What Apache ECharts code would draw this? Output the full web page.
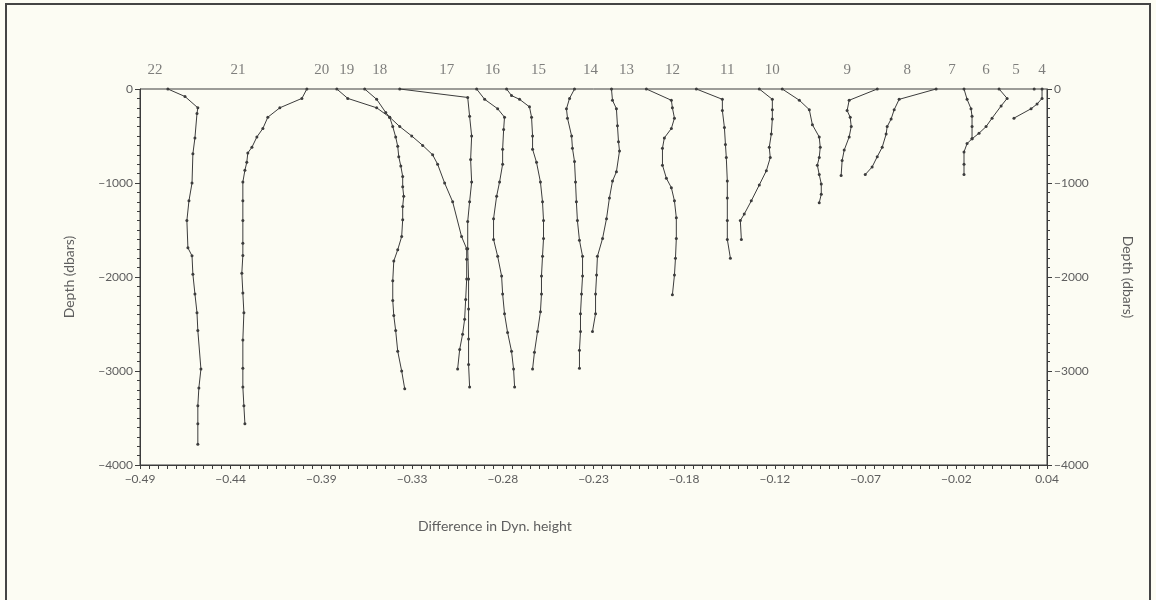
<!DOCTYPE html>
<html>
<head>
<meta charset="utf-8">
<script src="https://cdn.jsdelivr.net/npm/echarts@6/dist/echarts.min.js"></script>
<style>
  html, body { margin: 0; padding: 0; background: #fcfcf3; }
  #main { width: 1156px; height: 600px; }
</style>
</head>
<body>
<div id="main"></div>
<script>
// x axis: difference in dynamic height, labels as printed
var xTickLabels = ['−0.49', '−0.44', '−0.39', '−0.33', '−0.28', '−0.23', '−0.18', '−0.12', '−0.07', '−0.02', '0.04'];
var xMin = -0.4935;
var xStep = 0.053;

// station numbers printed above the surface line
var stationNames = ['22', '21', '20', '19', '18', '17', '16', '15', '14', '13', '12', '11', '10', '9', '8', '7', '6', '5', '4'];
var stationLabelX = [-0.4847, -0.4363, -0.3873, -0.3727, -0.3534, -0.3143, -0.2875, -0.2606, -0.2303, -0.2092,
                     -0.1824, -0.1503, -0.1240, -0.0802, -0.0452, -0.0190, 0.0009, 0.0184, 0.0336];

// profiles: [difference in dyn. height, depth (dbars)]
var p22 = [[-0.4772, 0], [-0.4672, -80], [-0.4597, -200], [-0.4602, -260], [-0.4614, -520], [-0.4626, -690],
           [-0.4631, -1000], [-0.4649, -1190], [-0.4661, -1400], [-0.4655, -1690], [-0.4631, -1775], [-0.4626, -1970],
           [-0.4614, -2180], [-0.4602, -2380], [-0.4597, -2570], [-0.4579, -2980], [-0.4591, -3180], [-0.4597, -3370],
           [-0.4597, -3560], [-0.4597, -3780]];
var p21 = [[-0.3960, 0], [-0.3989, -100], [-0.4118, -200], [-0.4188, -300], [-0.4217, -420], [-0.4252, -510],
           [-0.4281, -620], [-0.4305, -680], [-0.4311, -780], [-0.4322, -865], [-0.4334, -990], [-0.4334, -1190],
           [-0.4334, -1400], [-0.4334, -1640], [-0.4334, -1770], [-0.4340, -1960], [-0.4334, -2170], [-0.4328, -2380],
           [-0.4334, -2670], [-0.4334, -2970], [-0.4334, -3170], [-0.4328, -3370], [-0.4322, -3560]];
var p19 = [[-0.3785, 0], [-0.3721, -100], [-0.3552, -200], [-0.3476, -300], [-0.3417, -400], [-0.3347, -500],
           [-0.3283, -600], [-0.3225, -700], [-0.3196, -800], [-0.3155, -1000], [-0.3108, -1200], [-0.3056, -1570],
           [-0.3026, -1700], [-0.3026, -1810], [-0.3026, -2020], [-0.3032, -2240], [-0.3038, -2450], [-0.3050, -2610],
           [-0.3067, -2770], [-0.3079, -2980]];
var p18 = [[-0.3622, 0], [-0.3552, -110], [-0.3499, -250], [-0.3476, -300], [-0.3458, -400], [-0.3441, -510],
           [-0.3429, -610], [-0.3423, -720], [-0.3411, -820], [-0.3400, -930], [-0.3400, -1040], [-0.3394, -1140],
           [-0.3400, -1250], [-0.3400, -1390], [-0.3406, -1570], [-0.3429, -1710], [-0.3452, -1830], [-0.3458, -2040],
           [-0.3458, -2250], [-0.3452, -2410], [-0.3441, -2570], [-0.3429, -2790], [-0.3406, -3000], [-0.3388, -3190]];
var p17 = [[-0.3417, 0], [-0.3020, -90], [-0.3009, -290], [-0.2997, -500], [-0.3003, -750], [-0.2997, -990],
           [-0.3009, -1200], [-0.3020, -1410], [-0.3020, -1700], [-0.3015, -2020], [-0.3015, -2340], [-0.3015, -2660],
           [-0.3015, -2930], [-0.3009, -3170]];
var p16 = [[-0.2968, 0], [-0.2921, -110], [-0.2845, -210], [-0.2805, -300], [-0.2810, -430], [-0.2816, -640],
           [-0.2816, -800], [-0.2834, -990], [-0.2851, -1140], [-0.2869, -1380], [-0.2869, -1600], [-0.2845, -1780],
           [-0.2822, -1990], [-0.2816, -2180], [-0.2805, -2390], [-0.2787, -2590], [-0.2764, -2790], [-0.2752, -2980],
           [-0.2746, -3170]];
var p15 = [[-0.2793, 0], [-0.2764, -70], [-0.2717, -110], [-0.2659, -190], [-0.2647, -300], [-0.2641, -500],
           [-0.2641, -640], [-0.2618, -780], [-0.2595, -990], [-0.2583, -1200], [-0.2577, -1400], [-0.2577, -1590],
           [-0.2583, -1780], [-0.2589, -1990], [-0.2589, -2180], [-0.2595, -2370], [-0.2612, -2580], [-0.2630, -2800],
           [-0.2641, -2980]];
var p14 = [[-0.2396, 0], [-0.2425, -100], [-0.2443, -210], [-0.2437, -310], [-0.2413, -500], [-0.2408, -630],
           [-0.2396, -770], [-0.2390, -990], [-0.2385, -1200], [-0.2379, -1400], [-0.2367, -1610], [-0.2349, -1780],
           [-0.2349, -1990], [-0.2355, -2180], [-0.2361, -2390], [-0.2361, -2580], [-0.2367, -2780], [-0.2367, -2970]];
var p13 = [[-0.2180, 0], [-0.2174, -120], [-0.2151, -210], [-0.2145, -390], [-0.2139, -560], [-0.2133, -660],
           [-0.2151, -880], [-0.2174, -980], [-0.2192, -1160], [-0.2209, -1380], [-0.2232, -1590], [-0.2262, -1780],
           [-0.2267, -1980], [-0.2273, -2180], [-0.2273, -2390], [-0.2291, -2580]];
var p12 = [[-0.1976, 0], [-0.1830, -120], [-0.1824, -200], [-0.1812, -310], [-0.1830, -420], [-0.1871, -520],
           [-0.1882, -630], [-0.1882, -810], [-0.1859, -950], [-0.1830, -1050], [-0.1812, -1190], [-0.1801, -1370],
           [-0.1801, -1590], [-0.1806, -1800], [-0.1812, -1980], [-0.1824, -2190]];
var p11 = [[-0.1684, 0], [-0.1532, -110], [-0.1532, -230], [-0.1520, -410], [-0.1514, -590], [-0.1509, -730],
           [-0.1503, -980], [-0.1503, -1160], [-0.1503, -1400], [-0.1503, -1600], [-0.1485, -1800]];
var p10 = [[-0.1316, 0], [-0.1240, -110], [-0.1240, -220], [-0.1240, -320], [-0.1246, -480], [-0.1258, -620],
           [-0.1252, -730], [-0.1275, -870], [-0.1316, -1020], [-0.1363, -1190], [-0.1404, -1330], [-0.1427, -1400],
           [-0.1421, -1600]];
var p9a = [[-0.1182, 0], [-0.1082, -120], [-0.1024, -220], [-0.1006, -380], [-0.0966, -510], [-0.0960, -620],
           [-0.0966, -730], [-0.0977, -810], [-0.0966, -910], [-0.0954, -1010], [-0.0954, -1120], [-0.0966, -1210]];
var p9 = [[-0.0627, 0], [-0.0791, -120], [-0.0803, -230], [-0.0785, -300], [-0.0779, -400], [-0.0791, -510],
          [-0.0820, -650], [-0.0832, -760], [-0.0838, -920]];
var p8 = [[-0.0283, 0], [-0.0499, -110], [-0.0528, -220], [-0.0546, -320], [-0.0569, -400], [-0.0575, -480],
          [-0.0598, -620], [-0.0627, -720], [-0.0657, -830], [-0.0697, -910]];
var p7 = [[-0.0120, 0], [-0.0102, -110], [-0.0079, -210], [-0.0073, -290], [-0.0073, -400], [-0.0073, -530],
          [-0.0102, -580], [-0.0120, -670], [-0.0120, -800], [-0.0120, -910]];
var p6 = [[0.0085, 0], [0.0132, -100], [0.0097, -180], [0.0044, -310], [0.0009, -400], [-0.0032, -470], [-0.0073, -530]];
var p5 = [[0.0290, 0]];
var p4 = [[0.0336, 0], [0.0336, -100], [0.0307, -160], [0.0272, -210], [0.0172, -310]];

var profiles = [p22, p21, p19, p18, p17, p16, p15, p14, p13, p12, p11, p10, p9a, p9, p8, p7, p6, p5, p4];
var profileNames = ['22', '21', '19', '18', '17', '16', '15', '14', '13', '12', '11', '10', '9a', '9', '8', '7', '6', '5', '4'];

var xMax = xMin + (xTickLabels.length - 1) * xStep;
var majorX = xTickLabels.map(function (s, i) { return xMin + i * xStep; });
var minorX = [];
for (var i = 0; i <= (xTickLabels.length - 1) * 10; i++) {
    minorX.push(xMin + i * xStep / 10);
}

var ink = '#3c3c3c';
var textGrey = '#5e5e5e';
var sansFont = 'Lato, "Open Sans", sans-serif';

var myChart = echarts.init(document.getElementById('main'));

var series = profiles.map(function (p, k) {
    return {
        name: profileNames[k],
        type: 'line',
        data: p,
        symbol: 'circle',
        symbolSize: 3,
        showSymbol: true,
        itemStyle: { color: ink },
        lineStyle: { color: ink, width: 1 },
        clip: false,
        silent: true
    };
});

// station numbers
series.push({
    type: 'scatter',
    symbolSize: 0,
    clip: false,
    silent: true,
    data: stationNames.map(function (n, i) { return { name: n, value: [stationLabelX[i], 0] }; }),
    label: {
        show: true,
        position: 'top',
        distance: 11,
        formatter: '{b}',
        fontFamily: '"Liberation Serif", serif',
        fontSize: 15,
        color: textGrey
    }
});

myChart.setOption({
    backgroundColor: '#fcfcf3',
    animation: false,
    title: {
        text: 'Difference in Dyn. height',
        left: 413,
        top: 514,
        textStyle: { fontFamily: sansFont, fontSize: 14, fontWeight: 'normal', color: textGrey }
    },
    grid: {
        left: 140,
        right: 109,
        top: 89,
        bottom: 135,
        containLabel: false,
        show: true,
        backgroundColor: 'transparent',
        borderWidth: 1,
        borderColor: ink
    },
    xAxis: {
        type: 'value',
        position: 'bottom',
        min: xMin,
        max: xMax,
        splitLine: { show: false },
        axisLine: { show: true, onZero: false, lineStyle: { color: ink, width: 1 } },
        axisTick: { show: true, customValues: minorX, length: 4, lineStyle: { color: ink } },
        axisLabel: {
            customValues: majorX,
            margin: 8,
            fontFamily: sansFont,
            fontSize: 12,
            color: textGrey,
            formatter: function (v) {
                return xTickLabels[Math.round((v - xMin) / xStep)];
            }
        }
    },
    yAxis: [
        {
            type: 'value',
            position: 'left',
            min: -4000,
            max: 0,
            interval: 1000,
            name: 'Depth (dbars)',
            nameLocation: 'middle',
            nameRotate: 90,
            nameGap: 64,
            nameTextStyle: { fontFamily: sansFont, fontSize: 14, color: textGrey },
            splitLine: { show: false },
            axisLine: { show: true, onZero: false, lineStyle: { color: ink } },
            axisTick: { show: true, length: 5, lineStyle: { color: ink } },
            minorTick: { show: true, splitNumber: 10, length: 3, lineStyle: { color: ink } },
            axisLabel: {
                margin: 7,
                fontFamily: sansFont,
                fontSize: 12,
                color: textGrey,
                formatter: function (v) { return v < 0 ? '−' + Math.abs(v) : String(v); }
            }
        },
        {
            type: 'value',
            position: 'right',
            min: -4000,
            max: 0,
            interval: 1000,
            name: 'Depth (dbars)',
            nameLocation: 'middle',
            nameRotate: -90,
            nameGap: 74,
            nameTextStyle: { fontFamily: sansFont, fontSize: 14, color: textGrey },
            splitLine: { show: false },
            axisLine: { show: true, onZero: false, lineStyle: { color: ink } },
            axisTick: { show: true, length: 5, lineStyle: { color: ink } },
            minorTick: { show: true, splitNumber: 10, length: 3, lineStyle: { color: ink } },
            axisLabel: {
                margin: 7,
                fontFamily: sansFont,
                fontSize: 12,
                color: textGrey,
                formatter: function (v) { return v < 0 ? '−' + Math.abs(v) : String(v); }
            }
        }
    ],
    graphic: [
        {
            type: 'rect',
            silent: true,
            shape: { x: 6, y: 4, width: 1144, height: 610 },
            style: { fill: null, stroke: '#444', lineWidth: 2 }
        }
    ],
    series: series
});
</script>
</body>
</html>
